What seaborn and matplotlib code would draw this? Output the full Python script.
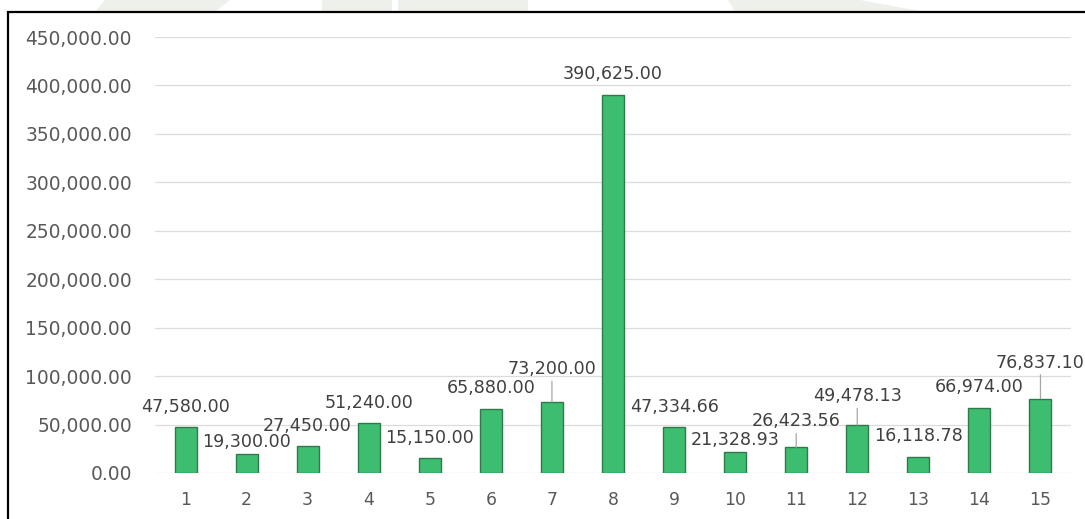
import matplotlib
matplotlib.use("Agg")
import matplotlib.pyplot as plt
from matplotlib.patches import Rectangle, Polygon
from matplotlib.ticker import FuncFormatter, MultipleLocator
import seaborn as sns
import pandas as pd

# ---- data -------------------------------------------------------------
categories = ["1", "2", "3", "4", "5", "6", "7", "8", "9", "10",
              "11", "12", "13", "14", "15"]
values = [47580.00, 19300.00, 27450.00, 51240.00, 15150.00, 65880.00,
          73200.00, 390625.00, 47334.66, 21328.93, 26423.56, 49478.13,
          16118.78, 66974.00, 76837.10]

# label placement above each bar (pixels) and which labels use a leader line
label_rise = [20, 12, 20, 20, 20, 21, 33, 21, 20, 12, 26, 29, 21, 21, 36]
leader = [False, False, False, False, False, False, True, False, False,
          False, True, True, False, False, True]

# ---- style ------------------------------------------------------------
sns.set_theme(style="white")
plt.rcParams["font.family"] = ["DejaVu Sans"]

W, H = 1085, 519
fig = plt.figure(figsize=(W / 100, H / 100), dpi=100, facecolor="white")

# faint watermark strip above the chart frame
wm = "#edf0eb"
for pts in [[(105, 0), (230, 0), (215, 12), (95, 12)],
            [(322, 0), (392, 0), (392, 12), (322, 12)],
            [(398, 0), (528, 0), (528, 12), (398, 12)],
            [(728, 0), (860, 0), (925, 12), (735, 12)]]:
    fig.patches.append(Polygon([(x / W, 1 - y / H) for x, y in pts],
                               closed=True, transform=fig.transFigure,
                               facecolor=wm, edgecolor="none", zorder=0))

# chart frame (only its top and left edges fall inside the image)
fig.patches.append(Rectangle((8 / W, -0.2), 1.5, 1 - 12 / H + 0.2,
                             transform=fig.transFigure, fill=False,
                             edgecolor="black", linewidth=1.6, zorder=1))

ax = fig.add_axes([155 / W, 1 - 473 / H, (1071 - 155) / W, (473 - 37) / H])
ax.set_facecolor("none")

df = pd.DataFrame({"cat": categories, "val": values})
sns.barplot(data=df, x="cat", y="val", ax=ax, color="#3dbd70",
            saturation=1, width=0.36, edgecolor="#2f7a4b", linewidth=1.0,
            zorder=3)

ax.set_ylim(0, 450000)
ax.set_xlim(-0.5, len(categories) - 0.5)
ax.yaxis.set_major_locator(MultipleLocator(50000))
ax.yaxis.set_major_formatter(FuncFormatter(lambda v, _: f"{v:,.2f}"))
ax.grid(axis="y", color="#dcdcdc", linewidth=0.9, zorder=0)
ax.set_axisbelow(True)
for s in ax.spines.values():
    s.set_visible(False)
ax.set_xlabel("")
ax.set_ylabel("")
ax.tick_params(axis="y", length=0, pad=16.5, labelsize=13.4, labelcolor="#595959")
ax.tick_params(axis="x", length=0, pad=13, labelsize=12.4, labelcolor="#595959")

# value labels
for i, (v, rise, lead) in enumerate(zip(values, label_rise, leader)):
    kw = {}
    if lead:
        kw["arrowprops"] = dict(arrowstyle="-", color="#a6a6a6", lw=0.9,
                                shrinkA=0, shrinkB=0)
    ax.annotate(f"{v:,.2f}", xy=(i, v), xytext=(0, rise),
                textcoords="offset pixels", ha="center", va="center",
                fontsize=12.6, color="#404040", zorder=5, annotation_clip=False,
                **kw)

fig.savefig("out.png", dpi=100, facecolor="white")
